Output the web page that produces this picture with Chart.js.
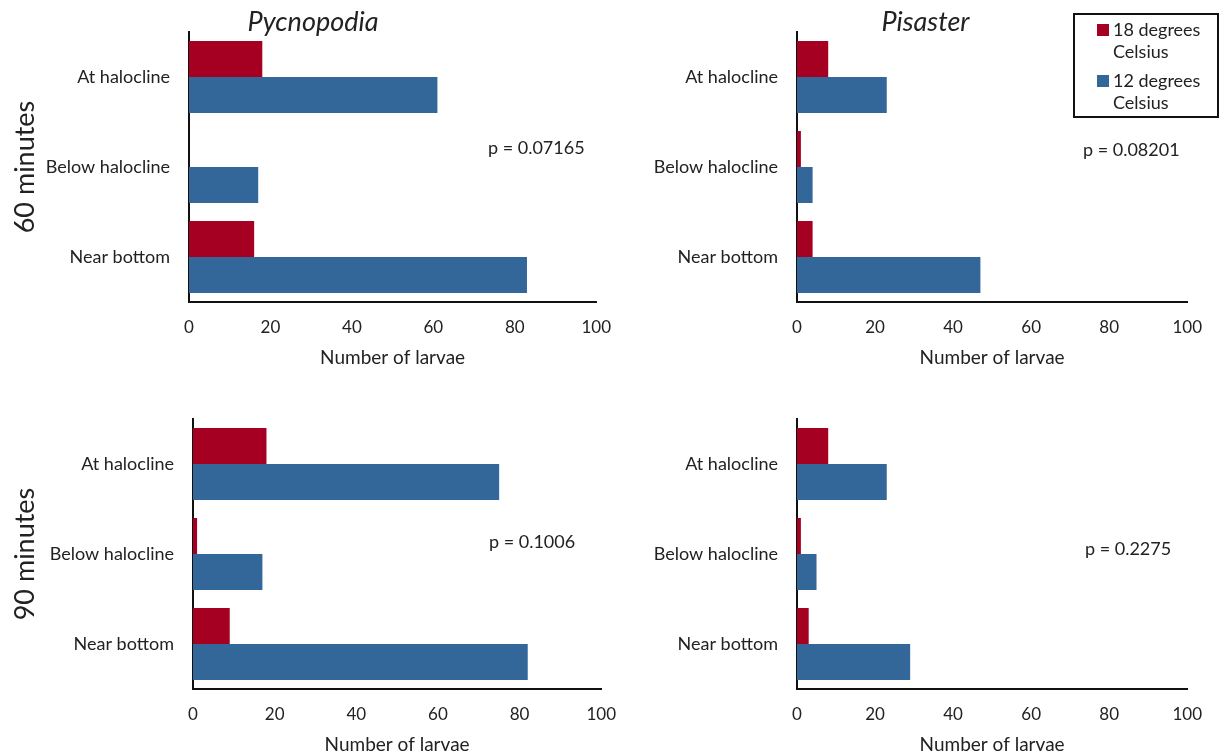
<!DOCTYPE html>
<html>
<head>
<meta charset="utf-8">
<script src="https://cdn.jsdelivr.net/npm/chart.js@4"></script>
<style>
  body { margin: 0; background: #fff; width: 1222px; height: 756px; overflow: hidden; position: relative; font-family: Lato, sans-serif; }
  canvas { position: absolute; }
  #legend { position: absolute; left: 1073px; top: 13px; width: 142px; height: 101px; border: 2px solid #111; color: #222; font-size: 18px; }
  #legend .item { position: absolute; left: 38px; line-height: 22px; }
  #legend .sw { position: absolute; left: -16px; top: 6px; width: 12px; height: 12px; }
</style>
</head>
<body>
<canvas id="c1" width="626" height="369" style="left:0;top:0"></canvas>
<canvas id="c2" width="583" height="369" style="left:634px;top:0"></canvas>
<canvas id="c3" width="631" height="367" style="left:0;top:389px"></canvas>
<canvas id="c4" width="583" height="367" style="left:634px;top:389px"></canvas>
<div id="legend"></div>
<script>
// data
const categories = ['At halocline', 'Below halocline', 'Near bottom'];
const seriesNames = ['18 degrees Celsius', '12 degrees Celsius'];
const seriesColors = ['#A50021', '#336699'];
const xTicks = [0, 20, 40, 60, 80, 100];

const pycno60Warm = [18, 0, 16];
const pycno60Cold = [61, 17, 83];
const pisaster60Warm = [8, 1, 4];
const pisaster60Cold = [23, 4, 47];
const pycno90Warm = [18, 1, 9];
const pycno90Cold = [75, 17, 82];
const pisaster90Warm = [8, 1, 3];
const pisaster90Cold = [23, 5, 29];

const pValues = ['p = 0.07165', 'p = 0.08201', 'p = 0.1006', 'p = 0.2275'];

const textColor = '#222';

// p-value annotation, placed relative to the chart area
const pValuePlugin = {
    id: 'pValue',
    afterDraw(chart, args, opts) {
        const ctx = chart.ctx;
        ctx.save();
        ctx.font = '18px Lato';
        ctx.fillStyle = textColor;
        ctx.textAlign = 'left';
        ctx.textBaseline = 'middle';
        ctx.fillText(opts.text, chart.chartArea.left + opts.dx, opts.y);
        ctx.restore();
    }
};

function makePanel(id, warm, cold, opt) {
    return new Chart(document.getElementById(id), {
        type: 'bar',
        data: {
            labels: categories,
            datasets: [
                { label: seriesNames[0], data: warm, backgroundColor: seriesColors[0] },
                { label: seriesNames[1], data: cold, backgroundColor: seriesColors[1] }
            ]
        },
        options: {
            indexAxis: 'y',
            responsive: false,
            animation: false,
            layout: { padding: { top: opt.padTop, right: 0, left: 0, bottom: 0 } },
            datasets: { bar: { categoryPercentage: 0.8, barPercentage: 1.0 } },
            plugins: {
                legend: { display: false },
                tooltip: { enabled: false },
                title: {
                    display: !!opt.title,
                    text: opt.title || '',
                    color: textColor,
                    font: { family: 'Lato', size: 27, style: 'italic', weight: 'normal', lineHeight: '20px' },
                    padding: { top: 12, bottom: 0 }
                },
                pValue: { text: opt.p, dx: opt.pdx, y: opt.py }
            },
            scales: {
                x: {
                    min: 0,
                    max: 100,
                    afterBuildTicks: s => { s.ticks = xTicks.map(v => ({ value: v })); },
                    afterFit: s => { s.height = 67; },
                    grid: { display: false, drawTicks: false },
                    border: { display: true, color: '#111', width: 2 },
                    ticks: { color: textColor, font: { family: 'Lato', size: 17 }, padding: 15, maxRotation: 0 },
                    title: {
                        display: true,
                        text: 'Number of larvae',
                        color: textColor,
                        font: { family: 'Lato', size: 19 },
                        padding: { top: 0, bottom: 0 }
                    }
                },
                y: {
                    afterFit: s => { s.width = opt.yWidth; },
                    grid: { display: false, drawTicks: false },
                    border: { display: true, color: '#111', width: 2 },
                    ticks: { color: textColor, font: { family: 'Lato', size: 18 }, padding: 19 },
                    title: {
                        display: !!opt.yTitle,
                        text: opt.yTitle || '',
                        color: textColor,
                        font: { family: 'Lato', size: 27 },
                        padding: { top: 9, bottom: 0 }
                    }
                }
            }
        },
        plugins: [pValuePlugin]
    });
}

makePanel('c1', pycno60Warm, pycno60Cold,
    { title: 'Pycnopodia', yTitle: '60 minutes', yWidth: 189, padTop: 0, p: pValues[0], pdx: 299, py: 148 });
makePanel('c2', pisaster60Warm, pisaster60Cold,
    { title: 'Pisaster', yWidth: 163, padTop: 0, p: pValues[1], pdx: 286, py: 150 });
makePanel('c3', pycno90Warm, pycno90Cold,
    { yTitle: '90 minutes', yWidth: 193, padTop: 30, p: pValues[2], pdx: 296, py: 153 });
makePanel('c4', pisaster90Warm, pisaster90Cold,
    { yWidth: 163, padTop: 30, p: pValues[3], pdx: 288, py: 160 });

// legend box, names split onto two lines like the original
const legend = document.getElementById('legend');
seriesNames.forEach((name, i) => {
    const parts = name.split(' ');
    const item = document.createElement('div');
    item.className = 'item';
    item.style.top = (3 + i * 51) + 'px';
    item.innerHTML = '<span class="sw" style="background:' + seriesColors[i] + '"></span>' +
        parts.slice(0, 2).join(' ') + '<br>' + parts.slice(2).join(' ');
    legend.appendChild(item);
});
</script>
</body>
</html>
